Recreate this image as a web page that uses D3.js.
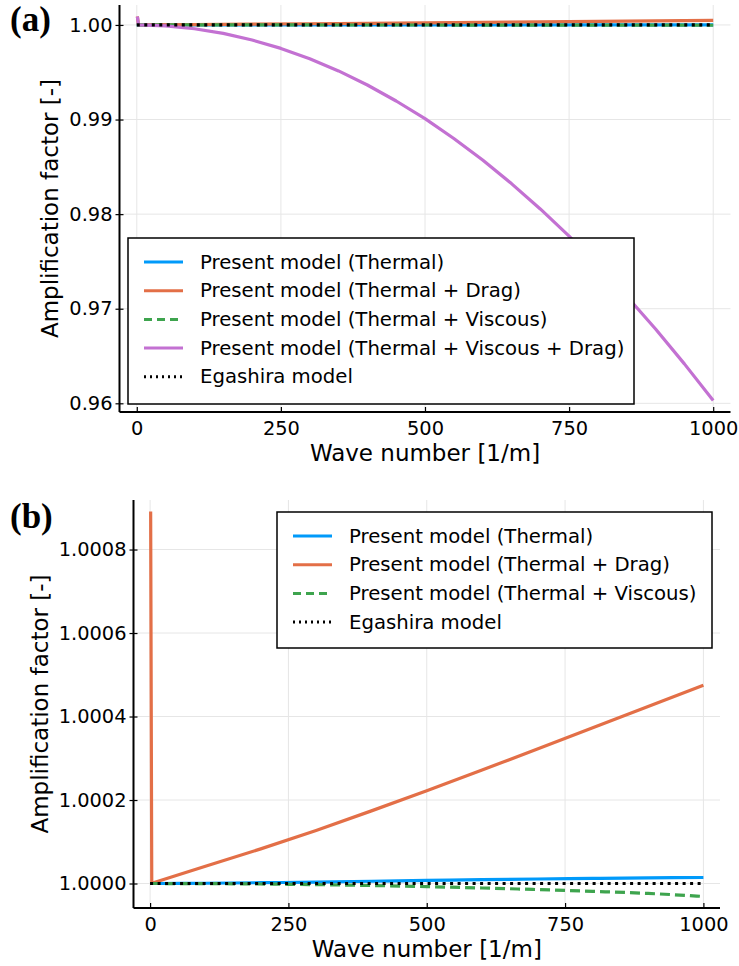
<!DOCTYPE html>
<html>
<head>
<meta charset="utf-8">
<script src="https://cdn.jsdelivr.net/npm/d3@7/dist/d3.min.js"></script>
<style>
  html, body { margin: 0; padding: 0; background: #fff; }
  svg { display: block; }
  text { font-family: "DejaVu Sans", sans-serif; fill: #000; }
</style>
</head>
<body>
<svg id="chart" width="739" height="966"></svg>
<script>
// ---------------- data ----------------
// wave numbers [1/m]
const kSmooth = [0, 100, 200, 300, 400, 500, 600, 700, 800, 900, 1000];
const thermal = [1.0, 1.0000006, 1.0000019, 1.0000035, 1.0000054, 1.0000074, 1.0000092, 1.0000108, 1.0000122, 1.0000134, 1.0000144];
const thermalViscous = [1.0, 0.9999997, 0.9999988, 0.9999973, 0.9999952, 0.9999925, 0.9999893, 0.9999855, 0.9999812, 0.9999763, 0.999969];
const egashira = [1.0, 1.0, 1.0, 1.0, 1.0, 1.0, 1.0, 1.0, 1.0, 1.0, 1.0];

const kDrag = [1, 3, 100, 200, 300, 400, 500, 600, 700, 800, 900, 1000];
const thermalDrag = [1.000891, 1.0000005, 1.0000415, 1.000083, 1.000127, 1.000174, 1.000222, 1.000272, 1.000322, 1.000373, 1.000424, 1.000475];

const kAll = [1, 3, 50, 100, 150, 200, 250, 300, 350, 400, 450, 500, 550, 600, 650, 700, 750, 800, 850, 900, 950, 1000];
const thermalViscousDrag = [1.00089, 1.0, 0.9999, 0.9996, 0.99911, 0.99841, 0.99752, 0.99643, 0.99514, 0.99365, 0.99196, 0.9901,
  0.988, 0.98572, 0.98323, 0.98055, 0.97767, 0.97459, 0.97132, 0.96785, 0.96417, 0.9603];

const xTicks = [0, 250, 500, 750, 1000];
const yTicksA = [0.96, 0.97, 0.98, 0.99, 1.00];
const yTicksB = [1.0000, 1.0002, 1.0004, 1.0006, 1.0008];

const labelsA = ["Present model (Thermal)", "Present model (Thermal + Drag)", "Present model (Thermal + Viscous)",
  "Present model (Thermal + Viscous + Drag)", "Egashira model"];
const labelsB = ["Present model (Thermal)", "Present model (Thermal + Drag)", "Present model (Thermal + Viscous)", "Egashira model"];

// ---------------- styles ----------------
const COLORS = { blue: "#009AFA", orange: "#E36F47", green: "#3EA44E", purple: "#C371D2", black: "#000000" };
const seriesDefs = {
  thermal:   { k: kSmooth, v: thermal, color: COLORS.blue, dash: null, curve: d3.curveMonotoneX },
  drag:      { k: kDrag, v: thermalDrag, color: COLORS.orange, dash: null, curve: d3.curveLinear },
  viscous:   { k: kSmooth, v: thermalViscous, color: COLORS.green, dash: "10,5", curve: d3.curveMonotoneX },
  all:       { k: kAll, v: thermalViscousDrag, color: COLORS.purple, dash: null, curve: d3.curveLinear },
  egashira:  { k: kSmooth, v: egashira, color: COLORS.black, dash: "3,4.5", curve: d3.curveLinear }
};

const svg = d3.select("#chart");

function pad(ext) {
  const s = ext[1] - ext[0];
  return [ext[0] - 0.03 * s, ext[1] + 0.03 * s];
}

function drawPanel(cfg) {
  const g = svg.append("g");
  const xs = d3.scaleLinear().domain(pad([0, 1000])).range([cfg.left, cfg.right]);
  const allVals = cfg.series.flatMap(s => seriesDefs[s].v);
  const ys = d3.scaleLinear().domain(pad(d3.extent(allVals))).range([cfg.bottom, cfg.top]);

  // grid
  g.append("g").selectAll("line").data(xTicks).join("line")
    .attr("x1", d => xs(d)).attr("x2", d => xs(d))
    .attr("y1", cfg.top).attr("y2", cfg.bottom)
    .attr("stroke", "#e6e6e6").attr("stroke-width", 1);
  g.append("g").selectAll("line").data(cfg.yTicks).join("line")
    .attr("y1", d => ys(d)).attr("y2", d => ys(d))
    .attr("x1", cfg.left).attr("x2", cfg.right)
    .attr("stroke", "#e6e6e6").attr("stroke-width", 1);

  // series
  cfg.series.forEach(name => {
    const s = seriesDefs[name];
    const line = d3.line().x(d => xs(d[0])).y(d => ys(d[1])).curve(s.curve);
    const pts = s.k.map((k, i) => [k, s.v[i]]);
    g.append("path").datum(pts).attr("d", line)
      .attr("fill", "none").attr("stroke", s.color).attr("stroke-width", 3.2)
      .attr("stroke-linejoin", "round")
      .attr("stroke-dasharray", s.dash);
  });

  // axes
  const xAxis = d3.axisBottom(xs).tickValues(xTicks).tickSize(-5).tickPadding(9).tickFormat(d3.format("d"));
  const gx = g.append("g").attr("transform", `translate(0,${cfg.bottom})`).call(xAxis);
  gx.select(".domain").attr("d", `M${cfg.left},0H${cfg.right}`).attr("stroke-width", 2);
  gx.selectAll(".tick line").attr("stroke-width", 1.2);
  gx.selectAll("text").style("font-size", "19.4px").style("font-family", "DejaVu Sans").attr("dy", "0.71em");

  const yAxis = d3.axisLeft(ys).tickValues(cfg.yTicks).tickSize(4).tickPadding(3).tickFormat(d3.format(cfg.yFmt));
  const gy = g.append("g").attr("transform", `translate(${cfg.left},0)`).call(yAxis);
  gy.select(".domain").attr("d", `M0,${cfg.top}V${cfg.bottom}`).attr("stroke-width", 2);
  gy.selectAll(".tick line").attr("x1", 4).attr("x2", -4).attr("stroke-width", 1.2);
  gy.selectAll("text").style("font-size", "19.4px").style("font-family", "DejaVu Sans");

  // axis titles
  g.append("text").attr("x", (xs(0) + xs(1000)) / 2).attr("y", cfg.bottom + 41)
    .attr("text-anchor", "middle").attr("dominant-baseline", "central")
    .style("font-size", "23px").text("Wave number [1/m]");
  g.append("text")
    .attr("transform", `translate(${cfg.yLabelX},${(cfg.top + cfg.bottom) / 2}) rotate(-90)`)
    .attr("text-anchor", "middle").attr("dominant-baseline", "central")
    .style("font-size", "23px").text("Amplification factor [-]");

  // panel tag
  g.append("text").attr("x", 10).attr("y", cfg.tagY)
    .style("font-family", "'Liberation Serif', 'Times New Roman', serif")
    .style("font-weight", "bold").style("font-size", "35px").text(cfg.tag);

  // legend
  const lg = g.append("g");
  lg.append("rect").attr("x", cfg.legend.x).attr("y", cfg.legend.y)
    .attr("width", cfg.legend.w).attr("height", cfg.legend.h)
    .attr("fill", "#fff").attr("stroke", "#000").attr("stroke-width", 1.5);
  const rows = cfg.legendSeries.map((name, i) => ({ name, i }));
  const row = lg.selectAll("g.row").data(rows).join("g")
    .attr("transform", d => `translate(${cfg.legend.x},${cfg.legend.y + 24 + d.i * 28.7})`);
  row.append("line").attr("x1", 16).attr("x2", 55).attr("y1", 0).attr("y2", 0)
    .attr("stroke", d => seriesDefs[d.name].color).attr("stroke-width", 3)
    .attr("stroke-dasharray", d => d.name === "egashira" ? "2,4" : (d.name === "viscous" ? "8,5" : null));
  row.append("text").attr("x", 72).attr("y", 0).attr("dominant-baseline", "central")
    .style("font-size", "19.7px").text(d => cfg.labels[d.i]);
}

drawPanel({
  left: 119.5, right: 730.5, top: 5, bottom: 412,
  series: ["thermal", "drag", "viscous", "all", "egashira"],
  yTicks: yTicksA, yFmt: ".2f", yLabelX: 50, tag: "(a)", tagY: 31,
  legend: { x: 128, y: 238, w: 506, h: 166 },
  legendSeries: ["thermal", "drag", "viscous", "all", "egashira"], labels: labelsA
});

drawPanel({
  left: 133.5, right: 720, top: 500, bottom: 908,
  series: ["thermal", "drag", "viscous", "egashira"],
  yTicks: yTicksB, yFmt: ".4f", yLabelX: 40, tag: "(b)", tagY: 528,
  legend: { x: 277, y: 512, w: 435, h: 136 },
  legendSeries: ["thermal", "drag", "viscous", "egashira"], labels: labelsB
});
</script>
</body>
</html>
